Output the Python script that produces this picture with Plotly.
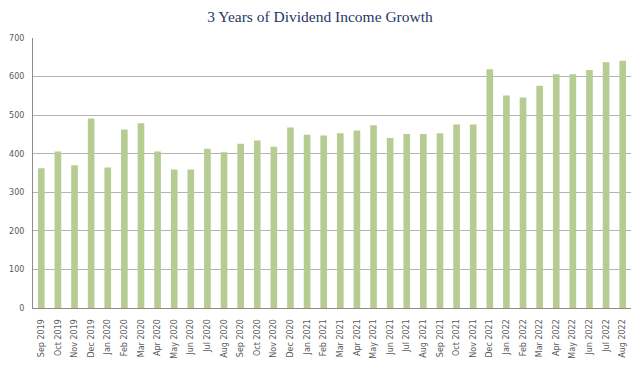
import plotly.graph_objects as go

months = ["Sep 2019", "Oct 2019", "Nov 2019", "Dec 2019", "Jan 2020", "Feb 2020", "Mar 2020",
          "Apr 2020", "May 2020", "Jun 2020", "Jul 2020", "Aug 2020", "Sep 2020", "Oct 2020",
          "Nov 2020", "Dec 2020", "Jan 2021", "Feb 2021", "Mar 2021", "Apr 2021", "May 2021",
          "Jun 2021", "Jul 2021", "Aug 2021", "Sep 2021", "Oct 2021", "Nov 2021", "Dec 2021",
          "Jan 2022", "Feb 2022", "Mar 2022", "Apr 2022", "May 2022", "Jun 2022", "Jul 2022",
          "Aug 2022"]
income = [362, 406, 370, 491, 364, 463, 479, 406, 359, 359, 413, 404, 426, 434, 418, 468,
          449, 447, 453, 460, 474, 441, 451, 451, 453, 476, 476, 619, 551, 546, 576, 606,
          606, 617, 637, 641]
y_ticks = [0, 100, 200, 300, 400, 500, 600, 700]

fig = go.Figure(go.Bar(x=months, y=income, marker=dict(color="#b6cc92", line=dict(width=0))))

# the page body adds an 8px offset; margins compensate for it
fig.update_layout(
    width=640, height=369,
    margin=dict(l=25, r=17, t=30, b=69),
    paper_bgcolor="white", plot_bgcolor="white",
    bargap=0.6,
    showlegend=False,
    title=dict(text="3 Years of Dividend Income Growth", x=0.4875, xanchor="center",
               y=0.976, yanchor="middle",
               font=dict(family="Liberation Serif, DejaVu Serif, serif", size=15.5, color="#1f3864")),
)
fig.update_xaxes(type="category", tickangle=-90,
                 tickfont=dict(family="DejaVu Sans", size=8, color="#595959"),
                 showline=True, linecolor="#8c8c8c", linewidth=1, showgrid=False, ticks="",
                 ticklabelstandoff=7, automargin=False)
fig.update_yaxes(range=[0, 700], tickvals=y_ticks,
                 tickfont=dict(family="DejaVu Sans", size=8, color="#595959"),
                 showgrid=True, gridcolor="#b4b4b4", gridwidth=1, showline=True, linecolor="#8c8c8c",
                 linewidth=1, zeroline=False, ticks="", ticklabelstandoff=6, automargin=False)

fig.write_html("out.html")
